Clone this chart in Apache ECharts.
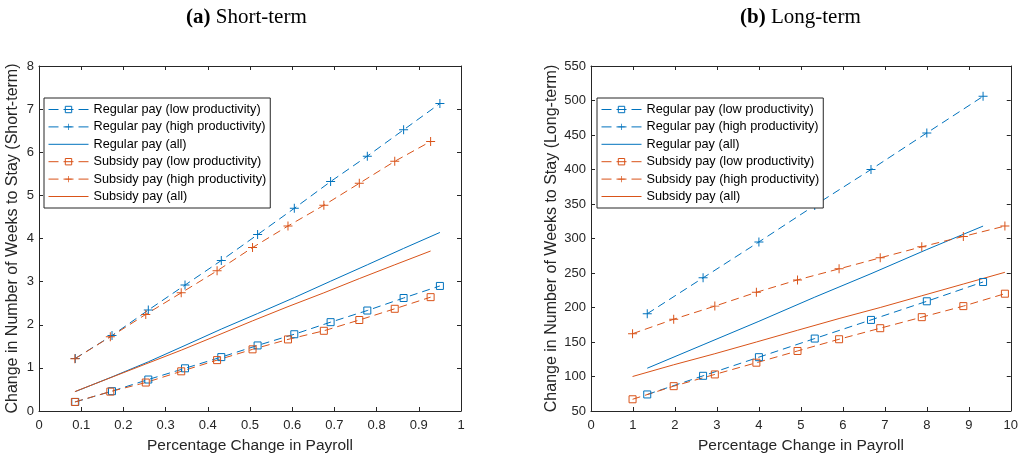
<!DOCTYPE html>
<html>
<head>
<meta charset="utf-8">
<script src="https://cdn.jsdelivr.net/npm/echarts@6/dist/echarts.min.js"></script>
<style>
html,body{margin:0;padding:0;background:#fff;}
#c{width:1021px;height:461px;}
</style>
</head>
<body>
<div id="c"></div>
<script>
// ---------- Data ----------
const seriesNames = [
  'Regular pay (low productivity)',
  'Regular pay (high productivity)',
  'Regular pay (all)',
  'Subsidy pay (low productivity)',
  'Subsidy pay (high productivity)',
  'Subsidy pay (all)'
];

// Panel (a) Short-term
const xRegShort  = [0.086, 0.173, 0.259, 0.346, 0.432, 0.518, 0.605, 0.691, 0.778, 0.864, 0.950];
const regLowShort  = [0.21, 0.46, 0.73, 0.99, 1.25, 1.52, 1.78, 2.06, 2.33, 2.62, 2.90];
const regHighShort = [1.22, 1.75, 2.34, 2.92, 3.49, 4.09, 4.70, 5.32, 5.91, 6.52, 7.13];
const regAllShort  = [0.45, 0.79, 1.14, 1.52, 1.90, 2.26, 2.63, 3.01, 3.39, 3.77, 4.14];
const xSubShort  = [0.085, 0.169, 0.253, 0.337, 0.422, 0.506, 0.590, 0.675, 0.759, 0.843, 0.928];
const subLowShort  = [0.21, 0.45, 0.66, 0.92, 1.18, 1.43, 1.66, 1.86, 2.11, 2.37, 2.64];
const subHighShort = [1.21, 1.72, 2.24, 2.74, 3.25, 3.79, 4.29, 4.77, 5.28, 5.79, 6.25];
const subAllShort  = [0.45, 0.77, 1.09, 1.41, 1.75, 2.09, 2.42, 2.74, 3.07, 3.39, 3.71];

// Panel (b) Long-term
const xRegLong  = [1.34, 2.67, 4.00, 5.33, 6.67, 8.00, 9.34];
const regLowLong  = [74, 101, 128, 155, 182, 209, 237];
const regHighLong = [191, 243, 295, 348, 400, 453, 506];
const regAllLong  = [112, 146, 180, 215, 249, 284, 318];
const xSubLong  = [0.99, 1.97, 2.95, 3.94, 4.92, 5.91, 6.89, 7.88, 8.87, 9.86];
const subLowLong  = [67, 86, 103, 120, 137, 154, 170, 186, 202, 220];
const subHighLong = [162, 183, 202, 222, 240, 256, 272, 288, 303, 318];
const subAllLong  = [100, 117, 133, 150, 167, 184, 200, 217, 234, 251];

// Tick values
const xTicksShort = [0, 0.1, 0.2, 0.3, 0.4, 0.5, 0.6, 0.7, 0.8, 0.9, 1];
const yTicksShort = [0, 1, 2, 3, 4, 5, 6, 7, 8];
const xTicksLong = [0, 1, 2, 3, 4, 5, 6, 7, 8, 9, 10];
const yTicksLong = [50, 100, 150, 200, 250, 300, 350, 400, 450, 500, 550];

const titles = [['(a)', 'Short-term'], ['(b)', 'Long-term']];
const xName = 'Percentage Change in Payroll';
const yNames = ['Change in Number of Weeks to Stay (Short-term)', 'Change in Number of Weeks to Stay (Long-term)'];

// ---------- Styling ----------
const BLUE = '#0072BD';
const ORANGE = '#D95319';
const AX = '#262626';
const SANS = 'Liberation Sans, Arial, Helvetica, sans-serif';
const PLUS = 'path://M4.45,0H5.55V4.45H10V5.55H5.55V10H4.45V5.55H0V4.45H4.45Z';
const DASH = [8, 5];
const kinds = ['low', 'high', 'all', 'low', 'high', 'all'];

function pairs(xs, ys) { return xs.map((x, i) => [x, ys[i]]); }

function mkSeries(name, xs, ys, color, kind, xi, yi) {
  const s = {
    name: name, type: 'line', xAxisIndex: xi, yAxisIndex: yi,
    data: pairs(xs, ys), animation: false, silent: true,
    lineStyle: { color: color, width: 1, type: kind === 'all' ? 'solid' : DASH },
    emphasis: { disabled: true }
  };
  if (kind === 'low') {
    s.symbol = 'rect'; s.symbolSize = 7; s.showSymbol = true;
    s.itemStyle = { color: 'rgba(255,255,255,0)', borderColor: color, borderWidth: 1 };
  } else if (kind === 'high') {
    s.symbol = PLUS; s.symbolSize = 9; s.showSymbol = true;
    s.itemStyle = { color: color, borderWidth: 0 };
  } else {
    s.symbol = 'none'; s.showSymbol = false;
    s.itemStyle = { color: 'rgba(255,255,255,0)', borderWidth: 0 };
  }
  return s;
}

function mkX(gi, ticks, pos, main) {
  return {
    type: 'value', gridIndex: gi, position: pos,
    min: ticks[0], max: ticks[ticks.length - 1], interval: ticks[1] - ticks[0],
    name: main ? xName : '', nameLocation: 'middle', nameGap: 27,
    nameTextStyle: { fontSize: 15.5, color: AX, fontFamily: SANS },
    axisLine: { show: true, onZero: false, lineStyle: { color: AX, width: 1 } },
    axisTick: { show: true, inside: true, length: 4, lineStyle: { color: AX } },
    axisLabel: { show: main, color: AX, fontSize: 13, fontFamily: SANS, margin: 8 },
    splitLine: { show: false }
  };
}
function mkY(gi, ticks, pos, main, name, gap) {
  return {
    type: 'value', gridIndex: gi, position: pos,
    min: ticks[0], max: ticks[ticks.length - 1], interval: ticks[1] - ticks[0],
    name: main ? name : '', nameLocation: 'middle', nameGap: gap,
    nameTextStyle: { fontSize: 16, color: AX, fontFamily: SANS },
    axisLine: { show: true, onZero: false, lineStyle: { color: AX, width: 1 } },
    axisTick: { show: true, inside: true, length: 4, lineStyle: { color: AX } },
    axisLabel: { show: main, color: AX, fontSize: 13, fontFamily: SANS, margin: 5 },
    splitLine: { show: false }
  };
}

function mkLegend(left) {
  return {
    data: seriesNames.map((n, i) => kinds[i] === 'all'
      ? { name: n }
      : { name: n, lineStyle: { type: [10, 5], width: 1 } }),
    orient: 'vertical', left: left, top: 98,
    itemWidth: 40, itemHeight: 8, itemGap: 4.4,
    padding: [5, 4, 5, 4],
    backgroundColor: '#fff', borderColor: AX, borderWidth: 1,
    selectedMode: false,
    itemStyle: { borderWidth: 1 },
    lineStyle: { width: 1 },
    textStyle: { fontSize: 12.7, lineHeight: 12, color: '#000', fontFamily: SANS }
  };
}

function mkTitle(t, left) {
  return {
    text: '{b|' + t[0] + '} ' + t[1], left: left, top: 2,
    textStyle: {
      fontFamily: 'Liberation Serif, Times New Roman, serif', fontSize: 21, fontWeight: 'normal', color: '#000',
      rich: { b: { fontFamily: 'Liberation Serif, Times New Roman, serif', fontSize: 21, fontWeight: 'bold', color: '#000' } }
    }
  };
}

const option = {
  backgroundColor: '#fff',
  animation: false,
  title: [mkTitle(titles[0], 181), mkTitle(titles[1], 735)],
  legend: [mkLegend(44), mkLegend(597)],
  grid: [
    { left: 39, right: 560, top: 66, bottom: 50, containLabel: false },
    { left: 591, right: 9, top: 66, bottom: 50, containLabel: false }
  ],
  xAxis: [
    mkX(0, xTicksShort, 'bottom', true),
    mkX(0, xTicksShort, 'top', false),
    mkX(1, xTicksLong, 'bottom', true),
    mkX(1, xTicksLong, 'top', false)
  ],
  yAxis: [
    mkY(0, yTicksShort, 'left', true, yNames[0], 18),
    mkY(0, yTicksShort, 'right', false, '', 0),
    mkY(1, yTicksLong, 'left', true, yNames[1], 31),
    mkY(1, yTicksLong, 'right', false, '', 0)
  ],
  series: [
    mkSeries(seriesNames[0], xRegShort, regLowShort, BLUE, 'low', 0, 0),
    mkSeries(seriesNames[1], xRegShort, regHighShort, BLUE, 'high', 0, 0),
    mkSeries(seriesNames[2], xRegShort, regAllShort, BLUE, 'all', 0, 0),
    mkSeries(seriesNames[3], xSubShort, subLowShort, ORANGE, 'low', 0, 0),
    mkSeries(seriesNames[4], xSubShort, subHighShort, ORANGE, 'high', 0, 0),
    mkSeries(seriesNames[5], xSubShort, subAllShort, ORANGE, 'all', 0, 0),
    mkSeries(seriesNames[0], xRegLong, regLowLong, BLUE, 'low', 2, 2),
    mkSeries(seriesNames[1], xRegLong, regHighLong, BLUE, 'high', 2, 2),
    mkSeries(seriesNames[2], xRegLong, regAllLong, BLUE, 'all', 2, 2),
    mkSeries(seriesNames[3], xSubLong, subLowLong, ORANGE, 'low', 2, 2),
    mkSeries(seriesNames[4], xSubLong, subHighLong, ORANGE, 'high', 2, 2),
    mkSeries(seriesNames[5], xSubLong, subAllLong, ORANGE, 'all', 2, 2)
  ]
};

const chart = echarts.init(document.getElementById('c'), null, { renderer: 'canvas' });
chart.setOption(option);
</script>
</body>
</html>
